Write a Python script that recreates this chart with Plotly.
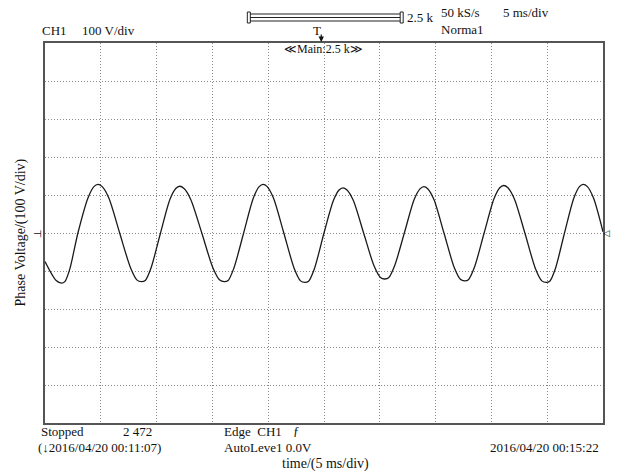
import plotly.graph_objects as go

# ---- data (time in ms, phase voltage in V) ----
time_ms = [0, 1.0, 1.49, 1.78, 2.22, 2.95, 3.85, 4.38, 4.74, 5.13, 5.72, 6.69,
           7.67, 8.25, 8.64, 8.98, 9.50, 10.35, 11.2, 11.72, 12.06, 12.46, 13.05,
           14.05, 15.05, 15.66, 16.06, 16.41, 16.93, 17.8, 18.67, 19.19, 19.54,
           19.91, 20.47, 21.4, 22.34, 22.9, 23.28, 23.62, 24.14, 25.0, 25.85,
           26.35, 26.69, 27.06, 27.62, 28.55, 29.49, 30.06, 30.43, 30.79, 31.32,
           32.2, 33.08, 33.6, 33.95, 34.31, 34.85, 35.75, 36.67, 37.22, 37.59,
           37.94, 38.47, 39.35, 40.23, 40.75, 41.1, 41.48, 42.05, 43.0, 43.95,
           44.52, 44.9, 45.23, 45.73, 46.55, 47.39, 47.89, 48.22, 48.6, 49.15, 50.0]
voltage_v = [-75, -125, -132, -128, -95, 0, 92, 122, 128, 122, 92, 0,
             -92, -124, -128, -125, -92, 0, 89, 117, 123, 117, 89,
             0, -92, -124, -128, -125, -92, 0, 92, 122, 128,
             122, 92, 0, -94, -126, -130, -127, -94, 0, 86,
             113, 119, 113, 86, 0, -87, -117, -121, -118, -87,
             0, 88, 116, 122, 116, 88, 0, -91, -122, -126,
             -123, -91, 0, 90, 119, 125, 119, 90, 0, -94,
             -126, -130, -127, -94, 0, 92, 122, 128, 122, 92, 3]

x_range = [0, 50]      # 10 div x 5 ms
y_range = [-500, 500]  # 10 div x 100 V
x_dtick = 5
y_dtick = 100

FONT = "Liberation Serif"

# plot-area geometry in pixels (for placing annotations)
W, H = 630, 473
L, R, T, B = 44.5, 603, 43, 423


def px(x):
    return (x - L) / (R - L)


def py(y):
    return (B - y) / (B - T)


fig = go.Figure()
fig.add_trace(go.Scatter(x=time_ms, y=voltage_v, mode="lines",
                         line=dict(color="#1a1a1a", width=1.3, shape="spline",
                                   smoothing=0.8),
                         hoverinfo="skip", showlegend=False))

grid = dict(showgrid=True, gridcolor="#8a8a8a", gridwidth=1, griddash="1px,2px",
            showticklabels=False, ticks="", zeroline=False, automargin=False,
            showline=True, linecolor="#555555", linewidth=1.6, mirror=True)

fig.update_xaxes(range=x_range, dtick=x_dtick, tick0=0, **grid)
fig.update_yaxes(range=y_range, dtick=y_dtick, tick0=0, **grid)

ann = []


def text(s, x, y, xanchor="left", size=13, **kw):
    ann.append(dict(text=s, x=px(x), y=py(y), xref="paper", yref="paper",
                    xanchor=xanchor, yanchor="middle", showarrow=False,
                    font=dict(family=FONT, size=size, color="#111"), **kw))


# axis titles
text("Phase Voltage/(100 V/div)", 20, 233, xanchor="center", size=14, textangle=-90)
text("time/(5 ms/div)", 325, 464, xanchor="center", size=14)

text("CH1", 39, 30)
text("100 V/div", 80, 30)
text("2.5 k", 405, 18)
text("50 kS/s", 439, 12)
text("5 ms/div", 501, 12)
text("Norma1", 439, 29)
text("T", 317, 31, xanchor="center")
text("≪Main:2.5 k≫", 323, 49, xanchor="center", size=12)
text("Stopped", 38, 431)
text("2 472", 121, 431)
text("(↓2016/04/20 00:11:07)", 35, 447)
text("Edge  CH1", 222, 431)
text("ƒ", 296, 430, xanchor="center", size=13)
text("AutoLeve1 0.0V", 222, 447)
text("2016/04/20 00:15:22", 601, 447, xanchor="right")
text("⊥", 36, 233, xanchor="center", size=10, textangle=-90)
text("◁", 607, 233, xanchor="center", size=9)

# trigger-position arrow under the "T"
ann.append(dict(text="", x=px(321), y=py(42), xref="paper", yref="paper",
                showarrow=True, ax=0, ay=-9, arrowhead=2, arrowsize=0.9,
                arrowwidth=1.2, arrowcolor="#111"))

fig.update_layout(annotations=ann)

# zoom indicator bar at top
shapes = []
for yy in (14, 17.5, 21):
    shapes.append(dict(type="line", xref="paper", yref="paper",
                       x0=px(250), x1=px(400), y0=py(yy), y1=py(yy),
                       line=dict(color="#222", width=1.2)))
for xx in (247, 400):
    shapes.append(dict(type="rect", xref="paper", yref="paper",
                       x0=px(xx), x1=px(xx + 3), y0=py(23), y1=py(12),
                       line=dict(color="#222", width=1)))
fig.update_layout(shapes=shapes)

fig.update_layout(width=W, height=H,
                  margin=dict(l=L, r=W - R, t=T, b=H - B, autoexpand=False),
                  paper_bgcolor="white", plot_bgcolor="white",
                  font=dict(family=FONT, color="#111"))

fig.write_html("out.html", config={"displayModeBar": False},
               post_script="document.body.style.margin='0';document.body.style.padding='0';")
